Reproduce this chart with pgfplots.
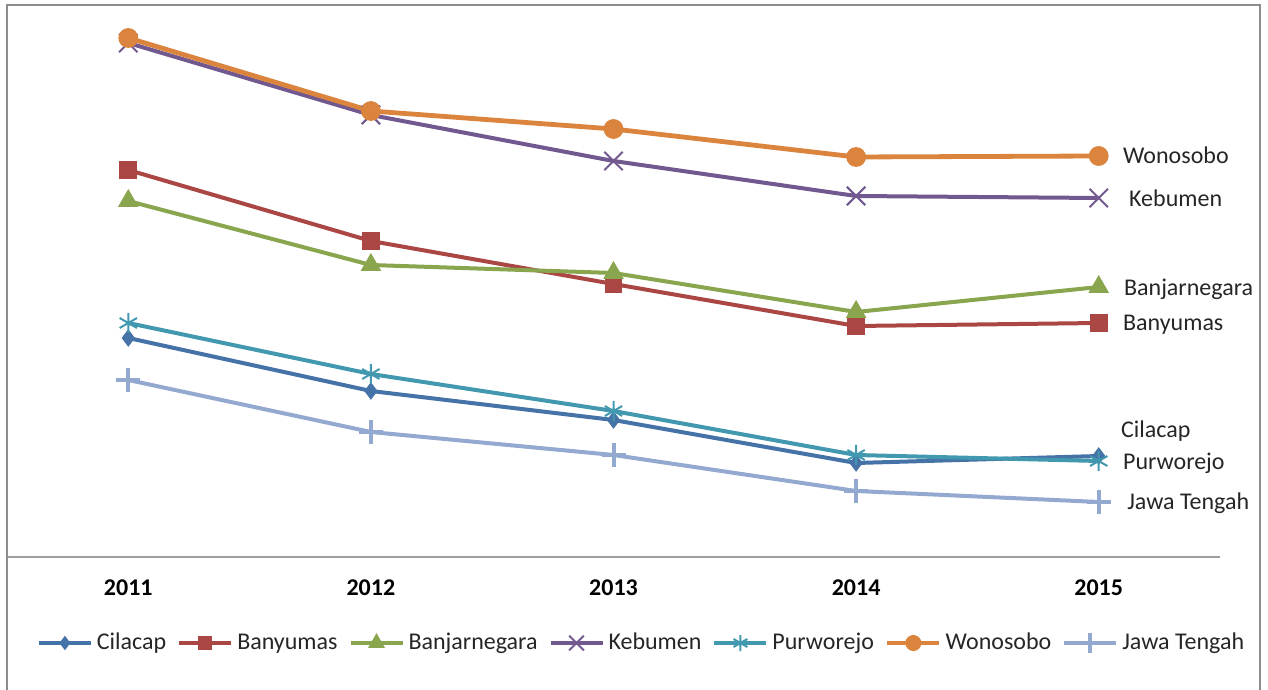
\documentclass[border=0pt]{standalone}
\usepackage{fontspec}
\setmainfont{Carlito}
\usepackage{pgfplots}
\pgfplotsset{compat=1.18}

\definecolor{cil}{HTML}{4572A7}
\definecolor{bym}{HTML}{AA4643}
\definecolor{bjn}{HTML}{89A54E}
\definecolor{keb}{HTML}{71588F}
\definecolor{pur}{HTML}{4198AF}
\definecolor{won}{HTML}{DB843D}
\definecolor{jat}{HTML}{93A9CF}

\begin{document}
\begin{tikzpicture}
\begin{axis}[
    at={(0,0)}, anchor=south west,
    scale only axis,
    width=606.5pt, height=276pt,
    xmin=2010.5, xmax=2015.5,
    ymin=0, ymax=552,
    clip=false,
    axis x line=bottom, axis y line=none,
    x axis line style={-, draw=gray!75, line width=0.6pt},
    xtick={2011,2012,2013,2014,2015},
    xticklabels={2011,2012,2013,2014,2015},
    major tick length=0pt,
    xticklabel style={font=\fontsize{12}{14}\selectfont\bfseries, yshift=-8pt},
    ytick=\empty,
    legend columns=7,
    legend style={
        at={(0.5223,-0.1558)}, anchor=center,
        draw=none, fill=none,
        font=\fontsize{12}{14}\selectfont,
        nodes={inner sep=0pt, text=black!85},
        /tikz/every odd column/.append style={column sep=2pt},
        /tikz/every even column/.append style={column sep=5.5pt},
    },
    legend cell align=left,
    legend image code/.code={
        \draw[mark repeat=2, mark phase=2, every mark/.append style={scale=0.8}]
            plot coordinates {(0pt,0pt) (13pt,0pt) (26pt,0pt)};
    },
]
\addplot[color=cil, line width=2pt, mark=diamond*, mark size=4pt,
    mark options={solid, line width=0.5pt}] coordinates {
    (2011,219) (2012,166) (2013,137) (2014,94) (2015,101)
};
\addlegendentry{Cilacap}
\addplot[color=bym, line width=2pt, mark=square*, mark size=4.2pt,
    mark options={solid, line width=0.5pt}] coordinates {
    (2011,387) (2012,316) (2013,273) (2014,231) (2015,234)
};
\addlegendentry{Banyumas}
\addplot[color=bjn, line width=2pt, mark=triangle*, mark size=5.5pt,
    mark options={solid, line width=0.5pt}] coordinates {
    (2011,356) (2012,292) (2013,284) (2014,245) (2015,270)
};
\addlegendentry{Banjarnegara}
\addplot[color=keb, line width=2pt, mark=x, mark size=6.5pt,
    mark options={solid, line width=1pt}] coordinates {
    (2011,514) (2012,442) (2013,396) (2014,361) (2015,359)
};
\addlegendentry{Kebumen}
\addplot[color=pur, line width=2pt, mark=asterisk, mark size=5pt,
    mark options={solid, line width=1pt}] coordinates {
    (2011,234) (2012,183) (2013,146) (2014,102) (2015,96)
};
\addlegendentry{Purworejo}
\addplot[color=won, line width=2.4pt, mark=*, mark size=4.7pt,
    mark options={solid, line width=0.5pt}] coordinates {
    (2011,519) (2012,446) (2013,428) (2014,400) (2015,401)
};
\addlegendentry{Wonosobo}
\addplot[color=jat, line width=2pt, mark=+, mark size=6pt,
    mark options={solid, line width=2pt}] coordinates {
    (2011,177) (2012,125) (2013,102) (2014,66) (2015,55)
};
\addlegendentry{Jawa Tengah}

\begin{scope}[every node/.style={anchor=base west, inner sep=0pt,
    yshift=-3.8pt, font=\fontsize{12}{14}\selectfont, text=black!85}]
\node at (axis cs:2015.099,401) {Wonosobo};
\node at (axis cs:2015.124,358) {Kebumen};
\node at (axis cs:2015.103,269) {Banjarnegara};
\node at (axis cs:2015.099,234) {Banyumas};
\node at (axis cs:2015.091,127) {Cilacap};
\node at (axis cs:2015.099,95) {Purworejo};
\node at (axis cs:2015.116,55) {Jawa Tengah};
\end{scope}
\end{axis}

\begin{scope}[x=0.5pt, y=-0.5pt, shift={(-3.5pt,278.5pt)}]
\useasboundingbox (0,0) rectangle (1268,690);
\draw[color=gray!90, line width=1.3pt] (7,690) -- (7,5) -- (1260,5) -- (1260,690);
\end{scope}
\end{tikzpicture}
\end{document}
